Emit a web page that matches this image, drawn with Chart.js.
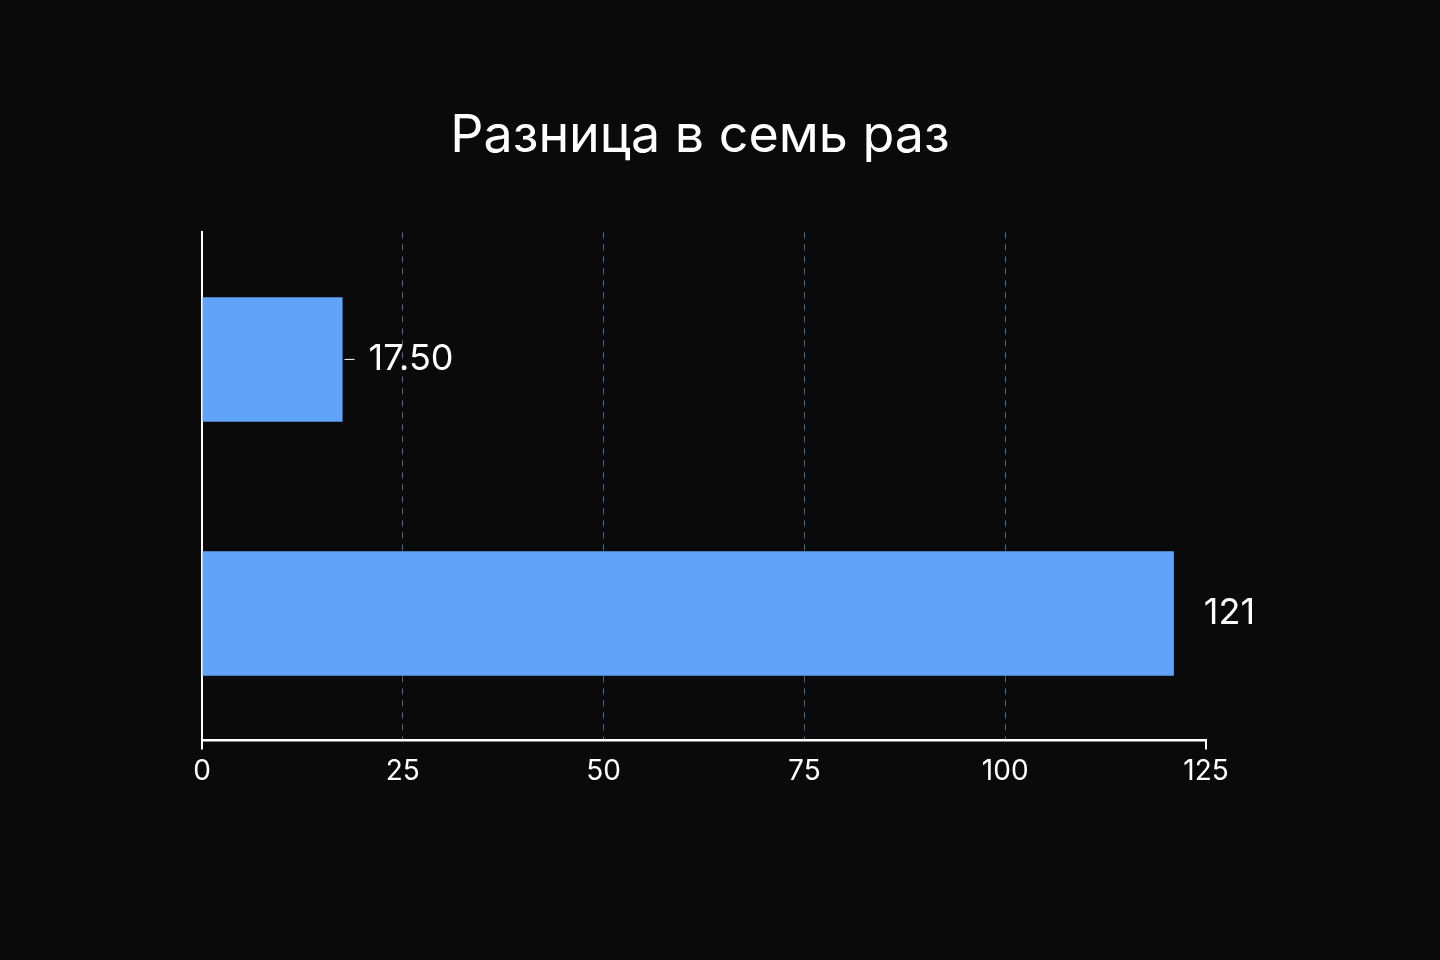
<!DOCTYPE html>
<html><head><meta charset="utf-8">
<script src="https://cdn.jsdelivr.net/npm/chart.js@4"></script>
<style>html,body{margin:0;background:#0a0a0a;}#w{position:absolute;left:0;top:0;width:1440px;height:960px;}</style>
</head><body><div id="w"><canvas id="c" width="1440" height="960"></canvas></div>
<script>
const categories = ["A", "B"];
const values = [17.5, 121];
const valueLabels = ["17.50", "121"];
const xTicks = [0, 25, 50, 75, 100, 125];
const titleText = "Разница в семь раз";

const labelPlugin = {
  id: 'vl',
  afterDatasetsDraw(chart) {
    const ctx = chart.ctx;
    const meta = chart.getDatasetMeta(0);
    ctx.save();
    ctx.fillStyle = '#ffffff';
    ctx.font = '36px Inter, "Noto Sans", sans-serif';
    ctx.textBaseline = 'middle';
    meta.data.forEach((bar, i) => {
      let x = bar.x;
      if (i === 0) {
        ctx.strokeStyle = '#ffffff'; ctx.lineWidth = 1;
        ctx.beginPath(); ctx.moveTo(x + 2, bar.y); ctx.lineTo(x + 12, bar.y); ctx.stroke();
        ctx.fillText(valueLabels[i], x + 26, bar.y);
      } else {
        ctx.fillText(valueLabels[i], x + 30, bar.y);
      }
    });
    ctx.restore();
  }
};

new Chart(document.getElementById('c'), {
  type: 'bar',
  data: { labels: categories, datasets: [{ data: values, backgroundColor: '#60a3f8', barPercentage: 0.98, categoryPercentage: 0.5 }] },
  options: {
    indexAxis: 'y', responsive: false, animation: false,
    layout: { padding: { left: 194, right: 234, top: 40, bottom: 158 } },
    plugins: {
      legend: { display: false }, tooltip: { enabled: false },
      title: { display: true, text: titleText, color: '#ffffff', font: { size: 52, family: 'Inter, "Noto Sans", sans-serif', weight: 'normal' }, padding: { top: 65, bottom: 65 } }
    },
    scales: {
      x: {
        min: 0, max: 125,
        afterBuildTicks: s => { s.ticks = xTicks.map(v => ({ value: v })); },
        ticks: { color: '#ffffff', font: { size: 28, family: 'Inter, "Noto Sans", sans-serif' }, padding: 14 },
        grid: {
          color: ctx => (ctx.index === 0 || ctx.index === xTicks.length - 1) ? 'rgba(0,0,0,0)' : '#3f6e9c',
          drawTicks: false, lineWidth: 1
        },
        border: { display: true, color: '#ffffff', width: 2, dash: [6, 6] }
      },
      y: {
        ticks: { display: false },
        grid: { display: false },
        border: { display: true, color: '#ffffff', width: 2 }
      }
    }
  },
  plugins: [labelPlugin, {
    id: 'xticks', afterDraw(chart) {
      const ctx = chart.ctx, s = chart.scales.x, y = s.top;
      ctx.save(); ctx.strokeStyle = '#fff'; ctx.lineWidth = 2;
      ctx.beginPath(); ctx.moveTo(s.left, y); ctx.lineTo(s.right, y); ctx.stroke();
      [0, 125].forEach(v => { const x = s.getPixelForValue(v); ctx.beginPath(); ctx.moveTo(x, y); ctx.lineTo(x, y + 9); ctx.stroke(); });
      ctx.restore();
    }
  }]
});
</script></body></html>
